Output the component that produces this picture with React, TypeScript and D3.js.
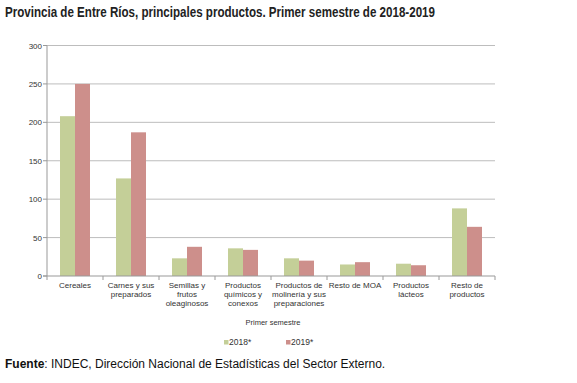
import React from "react";
import * as d3 from "d3";

const categories: string[][] = [
  ["Cereales"],
  ["Carnes y sus", "preparados"],
  ["Semillas y", "frutos", "oleaginosos"],
  ["Productos", "químicos y", "conexos"],
  ["Productos de", "molinería y sus", "preparaciones"],
  ["Resto de MOA"],
  ["Productos", "lácteos"],
  ["Resto de", "productos"],
];
const values2018: number[] = [208, 127, 23, 36, 23, 15, 16, 88];
const values2019: number[] = [250, 187, 38, 34, 20, 18, 14, 64];
const seriesNames: string[] = ["2018*", "2019*"];
const yTicks: number[] = [0, 50, 100, 150, 200, 250, 300];

const colors = ["#c4cf98", "#cd8f8b"];

export default function App() {
  const W = 577, H = 383;
  const left = 47, right = 495, top = 45.5, bottom = 276;
  const x = d3.scaleBand<number>().domain(d3.range(categories.length)).range([left, right]);
  const y = d3.scaleLinear().domain([0, 300]).range([bottom, top]);
  const bw = 15;
  const sans = "'Liberation Sans', Arial, sans-serif";
  return (
    <svg width={W} height={H} style={{ position: "absolute", left: 0, top: 0, background: "#fff" }}>
      <text x={5} y={17} fontFamily={sans} fontWeight="bold" fontSize={15} fill="#222"
        textLength={430} lengthAdjust="spacingAndGlyphs">
        Provincia de Entre Ríos, principales productos. Primer semestre de 2018-2019
      </text>
      {yTicks.map((t) => (
        <g key={t}>
          {t > 0 && <line x1={left} x2={right} y1={y(t)} y2={y(t)} stroke="#bdbdbd" strokeWidth={1} />}
          <line x1={left - 4} x2={left} y1={y(t)} y2={y(t)} stroke="#999" />
          <text x={42} y={y(t) + 3} textAnchor="end" fontFamily={sans} fontSize={8} fill="#333">
            {t}
          </text>
        </g>
      ))}
      <line x1={left} x2={left} y1={top} y2={bottom} stroke="#999" />
      {categories.map((c, i) => {
        const cx = (x(i) as number) + x.bandwidth() / 2;
        return (
          <g key={i}>
            <rect x={cx - bw} y={y(values2018[i])} width={bw} height={bottom - y(values2018[i])} fill={colors[0]} />
            <rect x={cx} y={y(values2019[i])} width={bw} height={bottom - y(values2019[i])} fill={colors[1]} />
            <line x1={(x(i) as number) + x.bandwidth()} x2={(x(i) as number) + x.bandwidth()} y1={bottom} y2={bottom + 4} stroke="#999" />
            {c.map((l, j) => (
              <text key={j} x={cx} y={288 + j * 9} textAnchor="middle" fontFamily={sans} fontSize={8} fill="#333">
                {l}
              </text>
            ))}
          </g>
        );
      })}
      <line x1={left - 4} x2={right} y1={bottom} y2={bottom} stroke="#999" />
      <line x1={left} x2={left} y1={bottom} y2={bottom + 4} stroke="#999" />
      <text x={273} y={325} textAnchor="middle" fontFamily={sans} fontSize={7.5} fill="#333">
        Primer semestre
      </text>
      {seriesNames.map((s, i) => {
        const lx = 224 + i * 62;
        return (
          <g key={s}>
            <rect x={lx} y={340} width={4.5} height={4.5} fill={colors[i]} />
            <text x={lx + 5} y={345} fontFamily={sans} fontSize={8.5} fill="#333">
              {s}
            </text>
          </g>
        );
      })}
      <text x={5} y={368} fontFamily={sans} fontSize={12} fill="#111">
        <tspan fontWeight="bold">Fuente</tspan>: INDEC, Dirección Nacional de Estadísticas del Sector Externo.
      </text>
    </svg>
  );
}
